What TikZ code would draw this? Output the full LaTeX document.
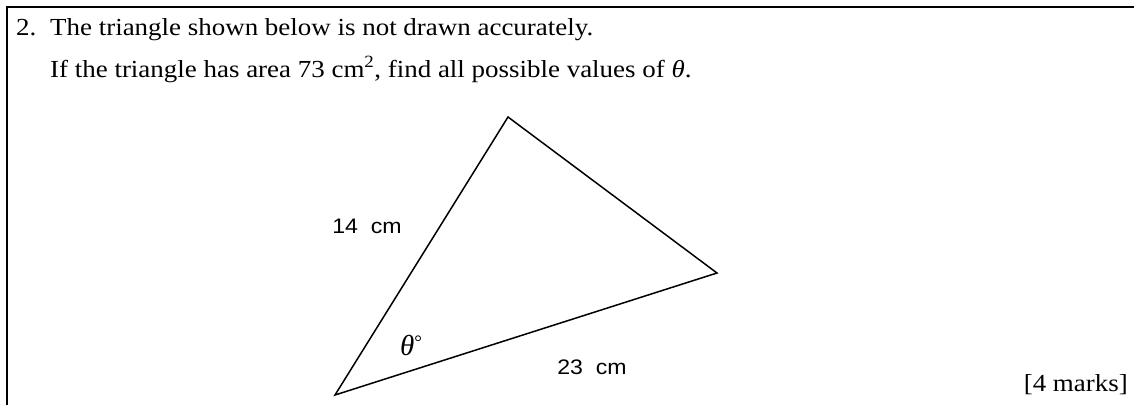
\documentclass[tikz,border=0pt]{standalone}
\usepackage{fontspec}
\setmainfont[FakeStretch=1.1]{Liberation Serif}
\newfontfamily\arialfont[FakeStretch=1.1]{Liberation Sans}
\newfontfamily\thetafont{Liberation Serif}
\tikzset{
  txt/.style={inner sep=0pt, anchor=base west, font=\fontsize{24.5}{29}\selectfont},
  lbl/.style={inner sep=0pt, font=\arialfont\fontsize{21}{25}\selectfont},
  edge/.style={line width=1.5pt, line join=miter},
  frame/.style={line width=2pt}
}
\begin{document}
\begin{tikzpicture}[x=1pt,y=-1pt]
\useasboundingbox (0,0) rectangle (1134,405);
\coordinate (fc) at (7,7);
\coordinate (fr) at (1134,7);
\coordinate (fb) at (7,405);
\draw[frame] (fr) -- (fc) -- (fb);
\node[txt] (num) at (16,35) {2.};
\node[txt] (l1) at (50,35) {The triangle shown below is not drawn accurately.};
\node[txt] (l2) at (50,77) {If the triangle has area 73 cm\textsuperscript{2}, find all possible values of \textit{θ}.};
\coordinate (A) at (335,395);
\coordinate (B) at (508,117);
\coordinate (C) at (717,273);
\draw[edge] (A) -- (B) -- (C) -- cycle;
\node[lbl] (s1) at (367,226) {14\ \ cm};
\node[lbl] (s2) at (592,367) {23\ \ cm};
\node[inner sep=0pt, font=\thetafont\fontsize{29}{32}\selectfont] (th) at (411,345) {\textit{θ}\raisebox{0.5ex}{\fontsize{19}{20}\selectfont °}};
\node[txt, anchor=base east] (marks) at (1128,391) {[4 marks]};
\end{tikzpicture}
\end{document}
